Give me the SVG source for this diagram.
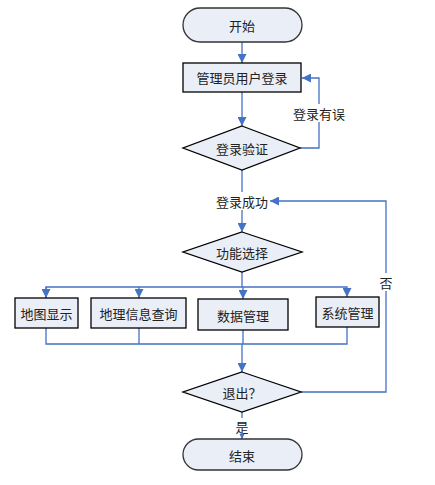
<svg xmlns="http://www.w3.org/2000/svg" width="435" height="485" viewBox="0 0 435 485">
<defs>
<marker id="ah" viewBox="0 0 10 10" refX="10" refY="5" markerWidth="9" markerHeight="9" markerUnits="userSpaceOnUse" orient="auto">
<path d="M0,0 L10,5 L0,10 z" fill="#4472C4"/>
</marker>
<marker id="ahs" viewBox="0 0 10 10" refX="10" refY="5" markerWidth="6" markerHeight="6" markerUnits="userSpaceOnUse" orient="auto">
<path d="M0,0 L10,5 L0,10 z" fill="#4472C4"/>
</marker>
<style>
.n{fill:#E9EEF7;stroke:#000;stroke-width:1.3}
.t{stroke:#333}
.c{fill:none;stroke:#4472C4;stroke-width:1.3}
text{font-family:"Noto Sans CJK SC","Liberation Sans",sans-serif;font-size:13px;fill:#222;text-anchor:middle;dominant-baseline:central}
.bg{fill:#fff}
</style>
</defs>
<rect width="435" height="485" fill="#fff"/>
<g id="connectors">
<path class="c" d="M242,42 V63" marker-end="url(#ah)"/>
<path class="c" d="M242,92 V126" marker-end="url(#ah)"/>
<path class="c" d="M300,148 H319 V78 H302" marker-end="url(#ah)"/>
<path class="c" d="M242,170 V232" marker-end="url(#ah)"/>
<path class="c" d="M242,272 V287"/>
<path class="c" d="M46,298 V287 H347 V297" marker-end="url(#ah)"/>
<path class="c" d="M46,287 V298" marker-end="url(#ah)"/>
<path class="c" d="M139,287 V298" marker-end="url(#ah)"/>
<path class="c" d="M243,287 V299" marker-end="url(#ah)"/>
<path class="c" d="M46,328 V344 H347 V327"/>
<path class="c" d="M139,328 V344"/>
<path class="c" d="M243,330 V344"/>
<path class="c" d="M242,344 V372" marker-end="url(#ah)"/>
<path class="c" d="M301,392 H386 V201 H270" marker-end="url(#ah)"/>
<path class="c" d="M242,412 V439" marker-end="url(#ahs)"/>
<rect class="bg" x="292" y="104" width="54" height="18"/>
<text x="319" y="113">登录有误</text>
<rect class="bg" x="215" y="192" width="54" height="18"/>
<text x="242" y="201">登录成功</text>
<rect class="bg" x="378" y="273" width="16" height="18"/>
<text x="386" y="282">否</text>
<rect class="bg" x="234" y="418" width="16" height="16"/>
<text x="242" y="426">是</text>
</g>
<g id="start">
<rect class="n t" x="183" y="8" width="119" height="34" rx="17"/>
<text x="242" y="25">开始</text>
</g>
<g id="login">
<rect class="n" x="183" y="63" width="118" height="29"/>
<text x="242" y="77.5">管理员用户登录</text>
</g>
<g id="verify">
<polygon class="n" points="242,126 300,148 242,170 183,148"/>
<text x="242" y="148">登录验证</text>
</g>
<g id="select">
<polygon class="n" points="242,232 302,252 242,272 183,252"/>
<text x="242" y="252">功能选择</text>
</g>
<g id="map">
<rect class="n" x="15" y="298" width="63" height="30"/>
<text x="46.5" y="313">地图显示</text>
</g>
<g id="query">
<rect class="n" x="91" y="298" width="95" height="30"/>
<text x="138.5" y="313">地理信息查询</text>
</g>
<g id="data">
<rect class="n" x="198" y="299" width="90" height="31"/>
<text x="243" y="315">数据管理</text>
</g>
<g id="system">
<rect class="n" x="316" y="297" width="63" height="30"/>
<text x="347.5" y="312">系统管理</text>
</g>
<g id="exit">
<polygon class="n" points="242,372 301,392 242,412 183,392"/>
<text x="242" y="392">退出？</text>
</g>
<g id="end">
<rect class="n t" x="183" y="439" width="119" height="31" rx="15.5"/>
<text x="242" y="455">结束</text>
</g>
</svg>
